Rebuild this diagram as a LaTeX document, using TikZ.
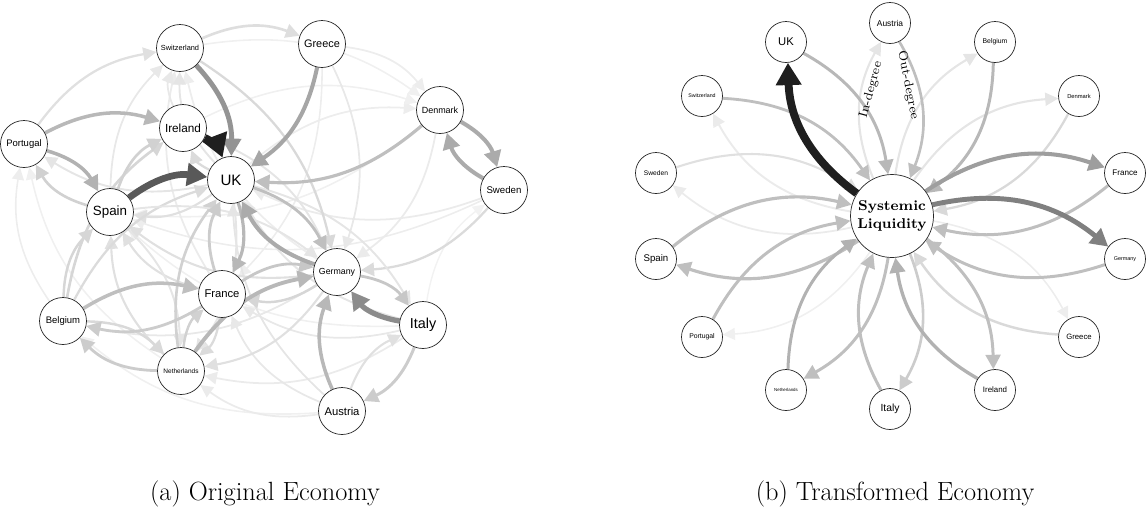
\documentclass[tikz,border=0pt]{standalone}
\usepackage{fontspec}
\usepackage{tikz}
\usetikzlibrary{arrows.meta, backgrounds}
\newfontfamily\arial{Liberation Sans}
\newcommand{\cfont}[1]{\arial\fontsize{#1}{#1}\selectfont}
\tikzset{
  country/.style={circle, draw=black!85, line width=0.4pt, fill=white, inner sep=0pt, minimum size=0.94cm},
  outer/.style={country, minimum size=0.82cm},
  hub/.style={circle, draw=black!85, line width=0.4pt, fill=white, inner sep=0pt, minimum size=1.66cm, align=center, font=\fontsize{8.1}{10}\selectfont\bfseries},
  link/.style args={#1/#2}{draw=black!#1, line width=#2pt, -{Triangle[length=5.5pt 1.6, width=5pt 2]}},
  subcap/.style={font=\fontsize{15}{18}\selectfont},
  degree/.style={font=\fontsize{7.2}{8}\selectfont, inner sep=0pt}
}

\begin{document}
\begin{tikzpicture}[x=0.02cm, y=0.02cm]
  \useasboundingbox (0,0) rectangle (1148,-512);

  % (a) original economy
  \node[country, font=\cfont{4.2}] (a-swi) at (180,-48) {Switzerland};
  \node[country, font=\cfont{6.2}] (a-gre) at (322,-44) {Greece};
  \node[country, font=\cfont{5.1}] (a-den) at (440,-110) {Denmark};
  \node[country, font=\cfont{6.7}] (a-ire) at (183,-128) {Ireland};
  \node[country, font=\cfont{5.4}] (a-por) at (24,-144) {Portugal};
  \node[country, font=\cfont{8.6}] (a-uk) at (231,-180) {UK};
  \node[country, font=\cfont{5.5}] (a-swe) at (504,-190) {Sweden};
  \node[country, font=\cfont{7.6}] (a-spa) at (110,-212) {Spain};
  \node[country, font=\cfont{5.0}] (a-ger) at (337,-272) {Germany};
  \node[country, font=\cfont{6.4}] (a-fra) at (222,-294) {France};
  \node[country, font=\cfont{5.4}] (a-bel) at (63,-321) {Belgium};
  \node[country, font=\cfont{8.2}] (a-ita) at (423,-325) {Italy};
  \node[country, font=\cfont{3.7}] (a-net) at (181,-371) {Netherlands};
  \node[country, font=\cfont{6.4}] (a-aus) at (342,-411) {Austria};

  % (b) transformed economy
  \node[hub] (b-sl) at (892,-216) {Systemic\\Liquidity};
  \node[outer, font=\cfont{4.8}] (b-aus) at (890,-23) {Austria};
  \node[outer, font=\cfont{6.4}] (b-uk) at (786,-42) {UK};
  \node[outer, font=\cfont{3.9}] (b-bel) at (995,-42) {Belgium};
  \node[outer, font=\cfont{3.0}] (b-swi) at (702,-96) {Switzerland};
  \node[outer, font=\cfont{3.3}] (b-den) at (1079,-96) {Denmark};
  \node[outer, font=\cfont{3.8}] (b-swe) at (656,-173) {Sweden};
  \node[outer, font=\cfont{4.6}] (b-fra) at (1125,-173) {France};
  \node[outer, font=\cfont{5.5}] (b-spa) at (656,-259) {Spain};
  \node[outer, font=\cfont{3.1}] (b-ger) at (1125,-259) {Germany};
  \node[outer, font=\cfont{3.9}] (b-por) at (702,-337) {Portugal};
  \node[outer, font=\cfont{4.4}] (b-gre) at (1079,-337) {Greece};
  \node[outer, font=\cfont{2.5}] (b-net) at (786,-390) {Netherlands};
  \node[outer, font=\cfont{4.5}] (b-ire) at (995,-390) {Ireland};
  \node[outer, font=\cfont{5.9}] (b-ita) at (890,-409) {Italy};

  \node[degree, rotate=75] (indeg) at (871,-90) {In-degree};
  \node[degree, rotate=-79] (outdeg) at (908,-85) {Out-degree};

  \node[subcap] (cap-a) at (265,-494) {(a) Original Economy};
  \node[subcap] (cap-b) at (895,-494) {(b) Transformed Economy};

  \begin{scope}[on background layer]
    \foreach \from/\to/\gry/\wdt in {
        bel/por/7/0.9, net/por/6/0.9, aus/bel/6/0.9, ita/net/8/1.0, aus/net/8/1.0,
        swe/spa/7/0.9, swe/uk/8/1.0, den/spa/6/0.9, gre/den/7/1.0, uk/den/7/1.0,
        ire/den/6/0.9, swi/den/6/0.9, ita/swe/5/0.8, ger/swi/7/1.0, fra/swi/8/1.0,
        spa/swi/9/1.0, ire/swi/9/1.0, uk/swi/10/1.1, gre/ger/9/1.0, gre/fra/7/0.9,
        den/ger/8/1.0, swe/ger/14/1.3, ita/uk/10/1.1, ita/fra/9/1.0, ita/spa/6/0.9,
        aus/fra/9/1.0, aus/uk/10/1.0, aus/ita/12/1.2, ger/net/12/1.2, ger/spa/12/1.2,
        ger/bel/9/1.0, fra/spa/12/1.2, fra/net/14/1.3, net/spa/12/1.2, bel/spa/16/1.4,
        spa/net/10/1.1, uk/spa/12/1.2, uk/ire/14/1.3, uk/por/10/1.1, uk/ita/10/1.1,
        uk/net/10/1.1, bel/ire/16/1.5, bel/uk/14/1.3, net/uk/18/1.5, spa/ger/10/1.1,
        ire/ger/10/1.1, swi/ger/15/1.3, swi/gre/13/1.5, por/swi/12/1.3, spa/ire/18/1.5,
        spa/por/18/1.5, net/fra/18/1.4, fra/uk/20/1.6, bel/net/15/1.4, net/bel/20/1.6,
        fra/bel/20/1.6, ger/fra/16/1.4, fra/ger/22/1.6, ita/aus/20/1.7, ger/ita/22/1.6,
        uk/ger/25/1.6, aus/ger/28/2.0, bel/fra/25/2.0, den/uk/25/1.8, net/ger/28/2.2,
        uk/fra/28/1.8, por/spa/30/2.0, por/ire/28/2.0, swe/den/33/2.3, den/swe/33/2.3,
        ger/uk/33/2.3, ita/ger/45/3.0, gre/uk/35/2.3, swi/uk/42/2.8, spa/uk/65/3.8,
        ire/uk/88/4.8}
      \draw[link=\gry/\wdt] (a-\from) to[bend left=22] (a-\to);

    \foreach \from/\to/\gry/\wdt in {
        sl/por/6/0.9, sl/gre/7/0.9, sl/swe/8/1.0, sl/swi/8/1.1, sl/aus/10/1.2,
        sl/bel/10/1.2, sl/den/10/1.2, swe/sl/12/1.2, den/sl/15/1.3, gre/sl/15/1.4,
        sl/ita/20/1.5, aus/sl/25/1.5, swi/sl/25/1.6, por/sl/25/1.7, fra/sl/25/1.7,
        ger/sl/25/1.7, sl/ire/25/1.7, sl/net/25/1.7, ita/sl/25/1.7, spa/sl/25/1.8,
        sl/spa/25/1.8, uk/sl/28/1.7, bel/sl/28/1.7, net/sl/30/1.7, ire/sl/30/1.9,
        sl/fra/38/2.3, sl/ger/50/2.8, sl/uk/88/4.5}
      \draw[link=\gry/\wdt] (b-\from) to[bend left=26] (b-\to);
  \end{scope}
\end{tikzpicture}
\end{document}
